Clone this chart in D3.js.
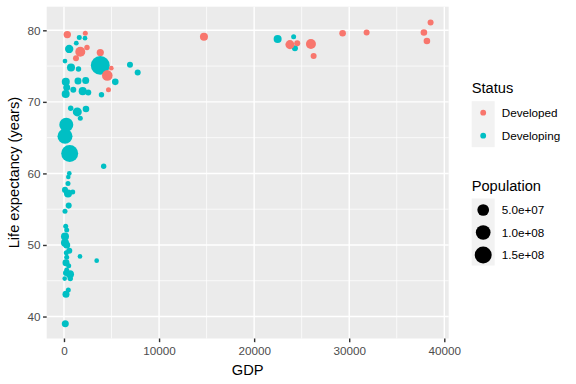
<!DOCTYPE html>
<html>
<head>
<meta charset="utf-8">
<script src="https://cdn.jsdelivr.net/npm/d3@7"></script>
<style>
body { margin: 0; background: #fff; }
text { font-family: "Liberation Sans", Arial, sans-serif; }
</style>
</head>
<body>
<div id="chart"></div>
<script>
// data: GDP, life expectancy, population, status
var developed = [
  [14721, 79.1, 1.2e7], [23764, 78.0, 1.95e7], [24532, 78.2, 2.2e6], [25972, 78.1, 2.9e7],
  [26256, 76.4, 2.2e6], [29305, 79.6, 4.2e6], [31830, 79.7, 2.2e6], [38559, 81.1, 2.2e6],
  [37854, 79.7, 4.2e6], [38170, 78.5, 4.2e6], [347, 79.4, 8.1e6], [2240, 79.6, 2.4e5],
  [1714, 77.0, 2.9e7], [2418, 77.6, 7.8e5], [1262, 76.1, 2.2e6], [3817, 76.9, 7e6],
  [4974, 74.7, 5e4], [4553, 73.7, 3.6e7], [4679, 71.7, 2.4e5]
];
var developing = [
  [22471, 78.8, 1.2e7], [24153, 79.1, 2.4e5], [24290, 77.5, 2.2e6], [1609, 79.0, 2.4e5],
  [2208, 78.9, 5e4], [1293, 78.2, 1e5], [547, 77.4, 1.46e7], [105, 75.7, 5e4],
  [3817, 75.1, 2.0e8], [736, 74.8, 1.2e7], [1525, 74.6, 7.8e5], [6940, 75.2, 2.2e6],
  [7750, 74.1, 2.2e6], [5394, 72.8, 4.2e6], [3943, 71.0, 7.8e5], [189, 72.8, 1.2e7],
  [284, 72.0, 6e6], [179, 71.1, 1.2e7], [978, 71.7, 2.2e6], [1472, 72.9, 6e6],
  [2282, 73.0, 6e6], [1966, 71.5, 1.2e7], [2555, 71.3, 2.2e6], [705, 69.1, 7.8e5],
  [1399, 68.6, 1.95e7], [2313, 69.0, 4.2e6], [1714, 67.7, 2.4e5], [242, 66.8, 8.7e7],
  [105, 65.2, 1.06e8], [599, 62.8, 1.5e8], [4175, 61.0, 7.8e5], [557, 60.0, 5e4],
  [452, 59.5, 1e4], [421, 58.6, 2.4e5], [105, 57.7, 2.2e6], [421, 57.2, 1.2e7],
  [915, 57.4, 2.4e5], [494, 55.5, 2.2e6], [105, 54.7, 2.4e5], [179, 52.6, 2.4e5],
  [284, 52.1, 2.4e5], [105, 51.2, 1.2e7], [284, 50.0, 6e6], [105, 50.3, 1.2e7],
  [557, 49.2, 2.2e6], [242, 48.9, 2.4e5], [284, 48.3, 2.4e5], [1682, 48.4, 5e4],
  [3438, 47.8, 5e4], [210, 47.5, 6e6], [494, 47.1, 2.4e5], [284, 46.5, 2.4e5],
  [631, 45.9, 1.2e7], [210, 46.1, 2.2e6], [74, 45.3, 1e4], [662, 45.3, 7.8e5],
  [452, 43.7, 2.4e5], [210, 43.1, 6e6], [137, 39.0, 6e6]
];
var statusNames = ["Developed", "Developing"];
var statusColours = ["#F8766D", "#00BFC4"];
var xTicks = [0, 10000, 20000, 30000, 40000];
var yTicks = [40, 50, 60, 70, 80];
var popBreaks = [5e7, 1e8, 1.5e8];
var popLabels = ["5.0e+07", "1.0e+08", "1.5e+08"];

var width = 576, height = 384;
var panel = {left: 46.7, top: 6.7, right: 448.7, bottom: 338.5};

var svg = d3.select("#chart").append("svg")
    .attr("width", width)
    .attr("height", height);

var x = d3.scaleLinear().domain([-1819, 40463]).range([panel.left, panel.right]);
var y = d3.scaleLinear().domain([36.93, 83.3]).range([panel.bottom, panel.top]);
var r = d3.scalePow().exponent(0.5).domain([0, 2e8]).range([2.25, 9.46]);
var colour = d3.scaleOrdinal().domain(statusNames).range(statusColours);

// panel background
svg.append("rect")
    .attr("x", panel.left).attr("y", panel.top)
    .attr("width", panel.right - panel.left)
    .attr("height", panel.bottom - panel.top)
    .attr("fill", "#EBEBEB");

var grid = svg.append("g");
// minor grid
[5000, 15000, 25000, 35000].forEach(function(d) {
  grid.append("line").attr("x1", x(d)).attr("x2", x(d)).attr("y1", panel.top).attr("y2", panel.bottom)
      .attr("stroke", "#fff").attr("stroke-width", 0.71);
});
[45, 55, 65, 75].forEach(function(d) {
  grid.append("line").attr("y1", y(d)).attr("y2", y(d)).attr("x1", panel.left).attr("x2", panel.right)
      .attr("stroke", "#fff").attr("stroke-width", 0.71);
});
// major grid
xTicks.forEach(function(d) {
  grid.append("line").attr("x1", x(d)).attr("x2", x(d)).attr("y1", panel.top).attr("y2", panel.bottom)
      .attr("stroke", "#fff").attr("stroke-width", 1.42);
});
yTicks.forEach(function(d) {
  grid.append("line").attr("y1", y(d)).attr("y2", y(d)).attr("x1", panel.left).attr("x2", panel.right)
      .attr("stroke", "#fff").attr("stroke-width", 1.42);
});

// points
var points = developing.map(function(d) { return {gdp: d[0], le: d[1], pop: d[2], status: "Developing"}; })
  .concat(developed.map(function(d) { return {gdp: d[0], le: d[1], pop: d[2], status: "Developed"}; }));

svg.append("g").selectAll("circle")
    .data(points)
  .enter().append("circle")
    .attr("cx", function(d) { return x(d.gdp); })
    .attr("cy", function(d) { return y(d.le); })
    .attr("r", function(d) { return r(d.pop); })
    .attr("fill", function(d) { return colour(d.status); });

// axes
var xAxis = svg.append("g")
    .attr("transform", "translate(0," + panel.bottom + ")")
    .call(d3.axisBottom(x).tickValues(xTicks).tickSize(3.65).tickPadding(4.3).tickFormat(d3.format("d")));
var yAxis = svg.append("g")
    .attr("transform", "translate(" + panel.left + ",0)")
    .call(d3.axisLeft(y).tickValues(yTicks).tickSize(3.65).tickPadding(2.6));
[xAxis, yAxis].forEach(function(a) {
  a.select(".domain").remove();
  a.selectAll(".tick line").attr("stroke", "#333333").attr("stroke-width", 1.42);
  a.selectAll(".tick text").attr("fill", "#4D4D4D").style("font-size", "11.7px")
      .style("font-family", "'Liberation Sans', Arial, sans-serif");
});

svg.append("text")
    .attr("x", (panel.left + panel.right) / 2).attr("y", 375)
    .attr("text-anchor", "middle").style("font-size", "14.67px").text("GDP");
svg.append("text")
    .attr("transform", "translate(19," + ((panel.top + panel.bottom) / 2) + ") rotate(-90)")
    .attr("text-anchor", "middle").style("font-size", "14.67px").text("Life expectancy (years)");

// legend: status
var lx = 471.7;
svg.append("text").attr("x", lx).attr("y", 92.7).style("font-size", "14.67px").text("Status");
svg.append("rect").attr("x", lx).attr("y", 101.2).attr("width", 23).attr("height", 46).attr("fill", "#F2F2F2");
statusNames.forEach(function(s, i) {
  var cy = 112.7 + i * 23;
  svg.append("circle").attr("cx", lx + 11.5).attr("cy", cy).attr("r", 2.9).attr("fill", colour(s));
  svg.append("text").attr("x", 501.7).attr("y", cy + 4.2).style("font-size", "11.7px").text(s);
});

// legend: population
svg.append("text").attr("x", lx).attr("y", 191).style("font-size", "14.67px").text("Population");
svg.append("rect").attr("x", lx).attr("y", 198.5).attr("width", 23).attr("height", 67).attr("fill", "#F2F2F2");
popBreaks.forEach(function(p, i) {
  var cy = 210 + i * 22.5;
  svg.append("circle").attr("cx", lx + 11.5).attr("cy", cy).attr("r", r(p)).attr("fill", "#000");
  svg.append("text").attr("x", 501.7).attr("y", cy + 4.2).style("font-size", "11.7px").text(popLabels[i]);
});
</script>
</body>
</html>
